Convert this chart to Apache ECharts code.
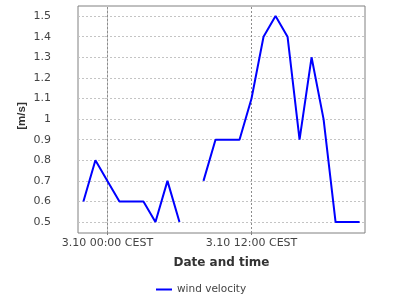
<!DOCTYPE html>
<html>
<head>
<meta charset="utf-8">
<script src="https://cdn.jsdelivr.net/npm/echarts@6/dist/echarts.min.js"></script>
<style>html,body{margin:0;padding:0;background:#fff}#c{width:400px;height:300px}</style>
</head>
<body>
<div id="c"></div>
<script>
// hours relative to 3.10 00:00 CEST
var hours = [-2,-1,0,1,2,3,4,5,6,7,8,9,10,11,12,13,14,15,16,17,18,19,20,21];
var windVelocity = [0.6,0.8,0.7,0.6,0.6,0.6,0.5,0.7,0.5,null,0.7,0.9,0.9,0.9,1.1,1.4,1.5,1.4,0.9,1.3,1.0,0.5,0.5,0.5];
var yTicks = [0.5,0.6,0.7,0.8,0.9,1,1.1,1.2,1.3,1.4,1.5];
var xTicks = [0,12];
var xTickLabels = ['3.10 00:00 CEST','3.10 12:00 CEST'];
var seriesName = 'wind velocity';
var xName = 'Date and time';
var yName = '[m/s]';

var FONT = 'DejaVu Sans';
var chart = echarts.init(document.getElementById('c'), null, {renderer:'canvas'});
var hLines = yTicks.map(function(v){return {yAxis:v, lineStyle:{color:'#c4c4c4', type:[2,2], width:1}};});
var vLines = xTicks.map(function(v){return {xAxis:v, lineStyle:{color:'#8c8c8c', type:[2,2], width:1}};});
chart.setOption({
  animation:false,
  backgroundColor:'#ffffff',
  grid:{left:78, right:35, top:6, bottom:67, show:true, borderColor:'#808080', borderWidth:1, backgroundColor:'#ffffff'},
  legend:{
    data:[seriesName], left:151, top:279, itemWidth:16, itemHeight:10, icon:'path://M0,4L16,4L16,6L0,6Z',
    textStyle:{fontFamily:FONT, fontSize:10.5, color:'#444'}
  },
  xAxis:{
    type:'value', min:-2.45, max:21.45,
    name:xName, nameLocation:'middle', nameGap:24, nameMoveOverlap:false,
    nameTextStyle:{fontFamily:FONT, fontSize:12, fontWeight:'bold', color:'#333'},
    axisLine:{show:false},
    splitLine:{show:false},
    axisTick:{show:true, customValues:xTicks, length:2, lineStyle:{color:'#808080'}},
    axisLabel:{customValues:xTicks, margin:5, fontFamily:FONT, fontSize:11, color:'#444',
      formatter:function(v){var i=xTicks.indexOf(v);return i>=0?xTickLabels[i]:'';}}
  },
  yAxis:{
    type:'value', min:0.447, max:1.549, offset:21,
    name:yName, nameLocation:'middle', nameGap:29, nameMoveOverlap:false,
    nameTextStyle:{fontFamily:'"Liberation Sans", sans-serif', fontSize:11.5, fontWeight:'bold', color:'#333', padding:[0,0,0,7]},
    axisLine:{show:true, lineStyle:{color:'#c4c4c4', width:1}},
    splitLine:{show:false},
    axisTick:{show:true, customValues:yTicks, length:3, inside:false, lineStyle:{color:'#c4c4c4'}},
    axisLabel:{customValues:yTicks, margin:6, fontFamily:FONT, fontSize:11, color:'#444',
      formatter:function(v){return String(Math.round(v*10)/10);}}
  },
  series:[
    {name:'_grid', type:'line', data:[], z:1, silent:true,
      markLine:{silent:true, symbol:'none', z:1, label:{show:false}, animation:false, data:hLines.concat(vLines)}},
    {name:seriesName, type:'line', z:3, symbol:'none', showSymbol:false, connectNulls:false,
      lineStyle:{color:'#0000ff', width:2}, itemStyle:{color:'#0000ff'},
      data:hours.map(function(h,i){return [h, windVelocity[i]];})}
  ]
});
</script>
</body>
</html>
